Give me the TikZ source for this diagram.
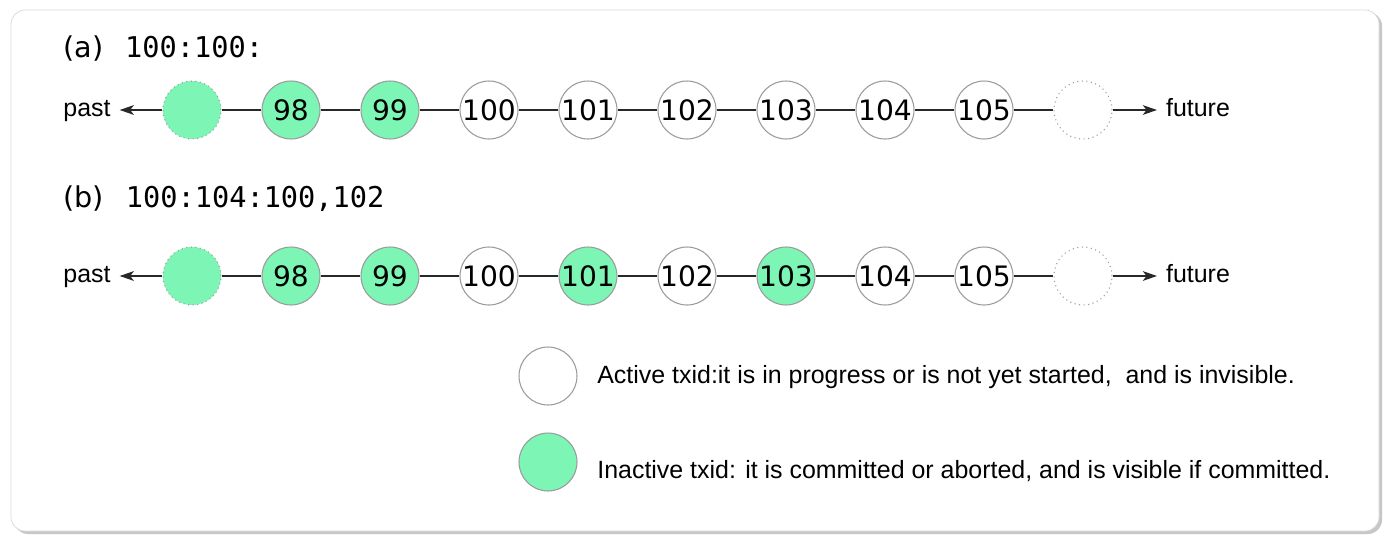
\documentclass[tikz,border=0pt]{standalone}
\usepackage{fontspec}
\setmainfont{Liberation Sans}
\newfontfamily\txmono{DejaVu Sans Mono}
\newfontfamily\txround{DejaVu Sans}
\usetikzlibrary{arrows.meta}
\definecolor{txgreen}{RGB}{125,245,180}
\definecolor{rimgrey}{RGB}{155,155,155}
\definecolor{linkgrey}{RGB}{40,40,40}
\newcommand{\txcapfont}{\txmono\fontsize{16.3}{18}\selectfont}
\newcommand{\txcircfont}{\txround\fontsize{16}{18}\selectfont}
\newcommand{\txnotefont}{\fontsize{14.2}{16}\selectfont}

\begin{document}
\begin{tikzpicture}
[x=0.02cm,y=-0.02cm,%
  every node/.style={inner sep=0pt},%
  txid/.style={shape=circle,minimum size=1.16cm,draw=rimgrey,line width=0.6pt,fill=white,font=\txcircfont},%
  done/.style={txid,fill=txgreen},%
  ghost/.style={txid,dotted},%
  ghostdone/.style={done,dotted},%
  link/.style={draw=linkgrey,line width=0.8pt},%
  tip/.style={link,-{Stealth[length=8pt,width=5.5pt,inset=2pt]}},%
  caption/.style={anchor=base west,font=\txcapfont},%
  side/.style={anchor=base,font=\txnotefont,inner xsep=5pt},%
  note/.style={anchor=base west,font=\txnotefont}]
% page and panel
\fill[white] (0,0) rectangle (1400,542);
\fill[black!22,rounded corners=8] (14,12) rectangle (1382,534);
\draw[black!15,fill=white,rounded corners=8] (11,10) rectangle (1379,531);
% (a)
\node[caption] (capa) at (63,57) {{\txround (a)}\kern 12.5pt 100:100:};
\foreach \i/\t/\s in {0//ghostdone,1/98/done,2/99/done,3/100/txid,4/101/txid,%
  5/102/txid,6/103/txid,7/104/txid,8/105/txid,9//ghost}
  \node[\s] (a\i) at (192+99*\i,110) {\t};
\foreach \i [remember=\i as \k (initially 0)] in {1,...,9}
  \draw[link] (a\k) -- (a\i);
\node[side] (pasta) at (87,116) {past};
\node[side] (futurea) at (1198,116) {future};
\draw[tip] (a0) -- (a0 -| pasta.east);
\draw[tip] (a9) -- (a9 -| futurea.west);
% (b)
\node[caption] (capb) at (63,207) {{\txround (b)}\kern 12.5pt 100:104:100,102};
\foreach \i/\t/\s in {0//ghostdone,1/98/done,2/99/done,3/100/txid,4/101/done,%
  5/102/txid,6/103/done,7/104/txid,8/105/txid,9//ghost}
  \node[\s] (b\i) at (192+99*\i,276) {\t};
\foreach \i [remember=\i as \k (initially 0)] in {1,...,9}
  \draw[link] (b\k) -- (b\i);
\node[side] (pastb) at (87,282) {past};
\node[side] (futureb) at (1198,282) {future};
\draw[tip] (b0) -- (b0 -| pastb.east);
\draw[tip] (b9) -- (b9 -| futureb.west);
% legend
\node[txid] (keyactive) at (548,376) {};
\node[note] (keyactivetext) at (597,383)
  {Active txid:it is in progress or is not yet started,\ \ and is invisible.};
\node[done] (keyinactive) at (548,462) {};
\node[note] (keyinactivetext) at (597,478)
  {Inactive txid: it is committed or aborted, and is visible if committed.};
\end{tikzpicture}
\end{document}
